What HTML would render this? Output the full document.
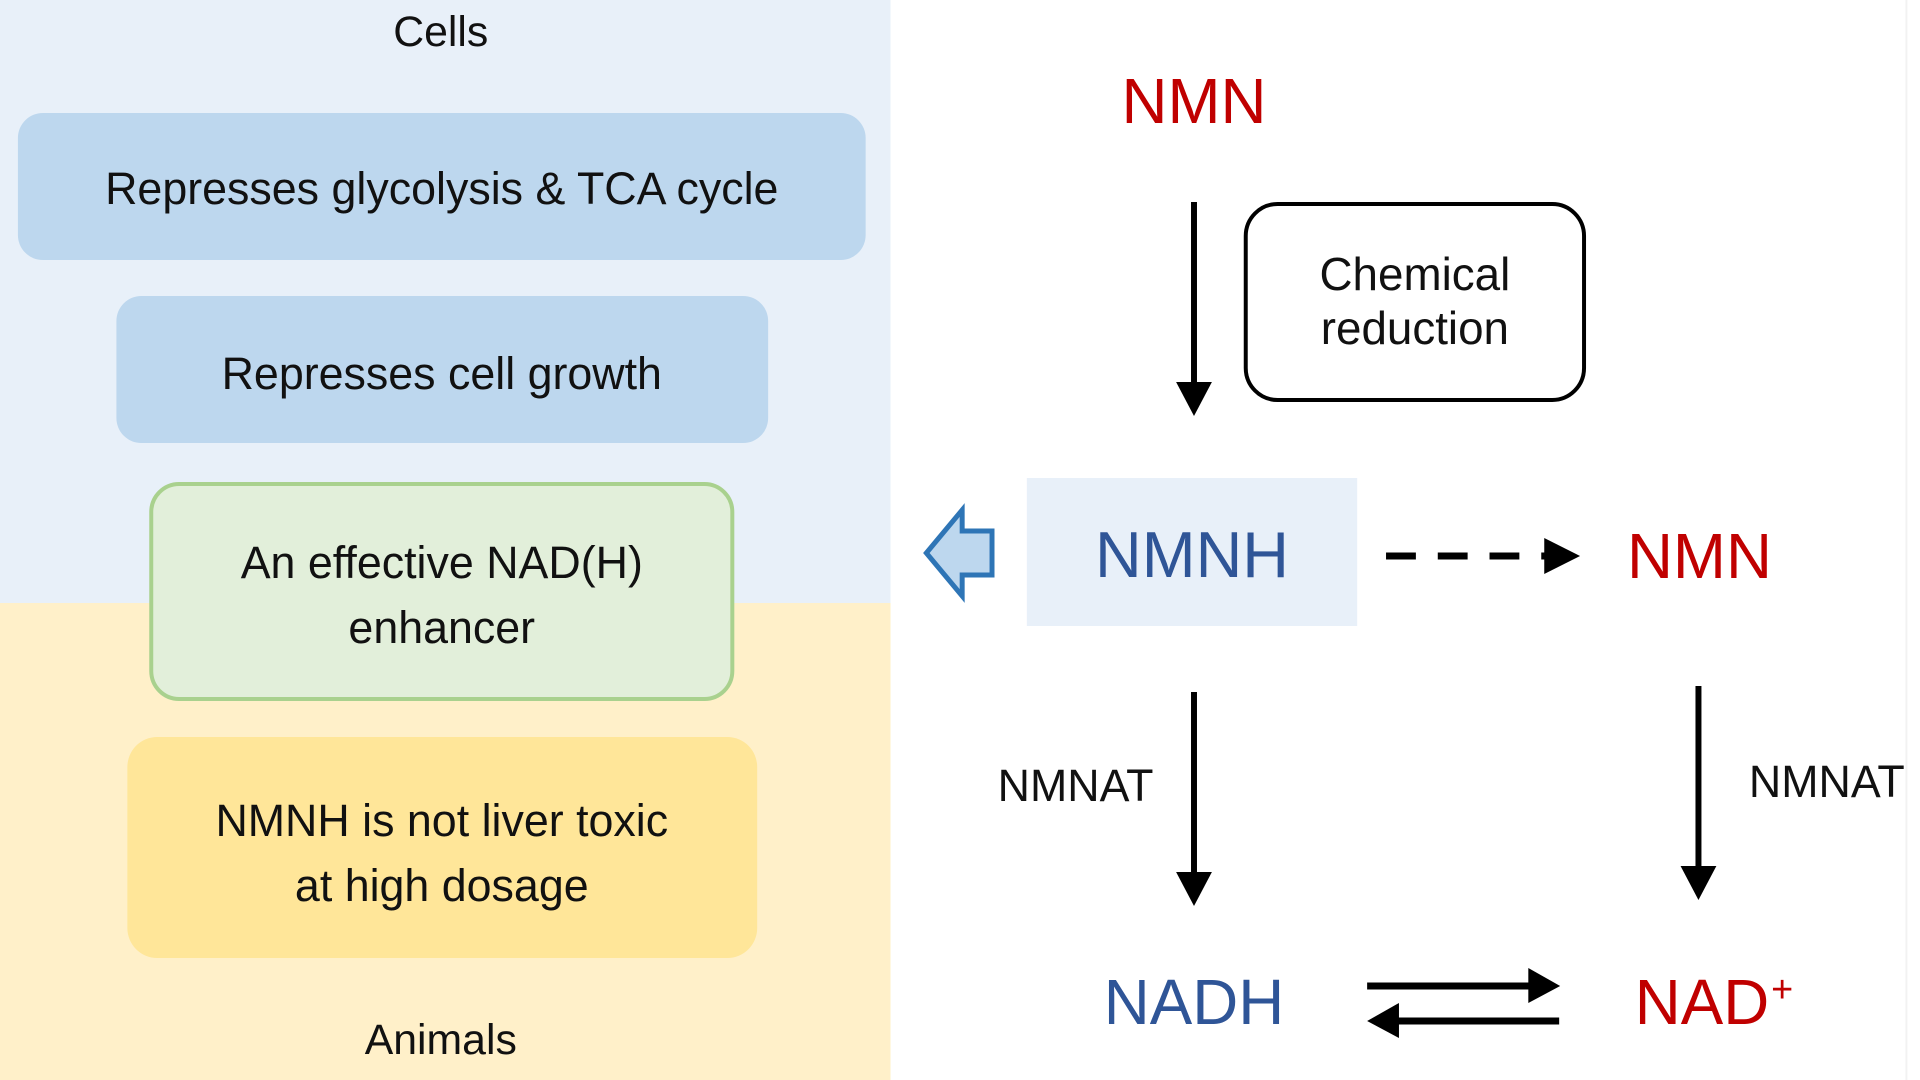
<!DOCTYPE html>
<html><head><meta charset="utf-8"><style>
html,body{margin:0;padding:0;background:#fff;}
svg{display:block;}
text{font-family:"Liberation Sans",Arial,sans-serif;}
</style></head><body>
<svg width="1920" height="1080" viewBox="0 0 1920 1080" xmlns="http://www.w3.org/2000/svg">
<rect x="0" y="0" width="1920" height="1080" fill="#fff"/>
<g transform="scale(0.995,1)">
<rect x="0" y="0" width="895" height="603" fill="#e8f0f9"/>
<rect x="0" y="603" width="895" height="477" fill="#fff0c9"/>
<line x1="1916" y1="0" x2="1916" y2="1080" stroke="#f2f2f2" stroke-width="2"/>

<text x="443" y="46" font-size="43" text-anchor="middle" fill="#111">Cells</text>
<rect x="18" y="113" width="852" height="147" rx="25" fill="#bdd7ee"/>
<text x="444" y="204" font-size="45" text-anchor="middle" fill="#111">Represses glycolysis &amp; TCA cycle</text>
<rect x="117" y="296" width="655" height="147" rx="25" fill="#bdd7ee"/>
<text x="444" y="389" font-size="45" text-anchor="middle" fill="#111">Represses cell growth</text>
<rect x="152" y="484" width="584" height="215" rx="28" fill="#e2efda" stroke="#a9d18e" stroke-width="4"/>
<text x="444" y="578" font-size="45" text-anchor="middle" fill="#111">An effective NAD(H)</text>
<text x="444" y="643" font-size="45" text-anchor="middle" fill="#111">enhancer</text>
<rect x="128" y="737" width="633" height="221" rx="30" fill="#ffe699"/>
<text x="444" y="836" font-size="45" text-anchor="middle" fill="#111">NMNH is not liver toxic</text>
<text x="444" y="901" font-size="45" text-anchor="middle" fill="#111">at high dosage</text>
<text x="443" y="1054" font-size="43" text-anchor="middle" fill="#111">Animals</text>

<text x="1200" y="123" font-size="64" text-anchor="middle" fill="#c00000">NMN</text>
<line x1="1200" y1="202" x2="1200" y2="385" stroke="#000" stroke-width="6"/>
<polygon points="1182,382 1218,382 1200,416" fill="#000"/>
<rect x="1252" y="204" width="340" height="196" rx="32" fill="#fff" stroke="#000" stroke-width="4"/>
<text x="1422" y="290" font-size="46" text-anchor="middle" fill="#111">Chemical</text>
<text x="1422" y="344" font-size="46" text-anchor="middle" fill="#111">reduction</text>

<rect x="1032" y="478" width="332" height="148" fill="#e8f0f9"/>
<text x="1198" y="577" font-size="65" text-anchor="middle" fill="#2f5597">NMNH</text>
<polygon points="931,553 967,510 967,531 997,531 997,575 967,575 967,596" fill="#bdd7ee" stroke="#2e75b6" stroke-width="5" stroke-linejoin="miter"/>

<line x1="1393" y1="556" x2="1560" y2="556" stroke="#000" stroke-width="7" stroke-dasharray="30,22"/>
<polygon points="1552,538 1588,556 1552,574" fill="#000"/>
<text x="1708" y="578" font-size="64" text-anchor="middle" fill="#c00000">NMN</text>

<line x1="1200" y1="692" x2="1200" y2="875" stroke="#000" stroke-width="6"/>
<polygon points="1182,872 1218,872 1200,906" fill="#000"/>
<text x="1081" y="801" font-size="45" text-anchor="middle" fill="#111">NMNAT</text>
<line x1="1707" y1="686" x2="1707" y2="869" stroke="#000" stroke-width="6"/>
<polygon points="1689,866 1725,866 1707,900" fill="#000"/>
<text x="1836" y="797" font-size="45" text-anchor="middle" fill="#111">NMNAT</text>

<text x="1200" y="1024" font-size="64" text-anchor="middle" fill="#2f5597">NADH</text>
<line x1="1374" y1="986" x2="1540" y2="986" stroke="#000" stroke-width="7"/>
<polygon points="1536,968 1568,986 1536,1003" fill="#000"/>
<line x1="1400" y1="1021" x2="1567" y2="1021" stroke="#000" stroke-width="7"/>
<polygon points="1406,1003 1374,1021 1406,1038" fill="#000"/>
<text x="1643" y="1024" font-size="64" fill="#c00000">NAD</text>
<text x="1780" y="1002" font-size="38" fill="#c00000">+</text>
</g>
</svg>
</body></html>
